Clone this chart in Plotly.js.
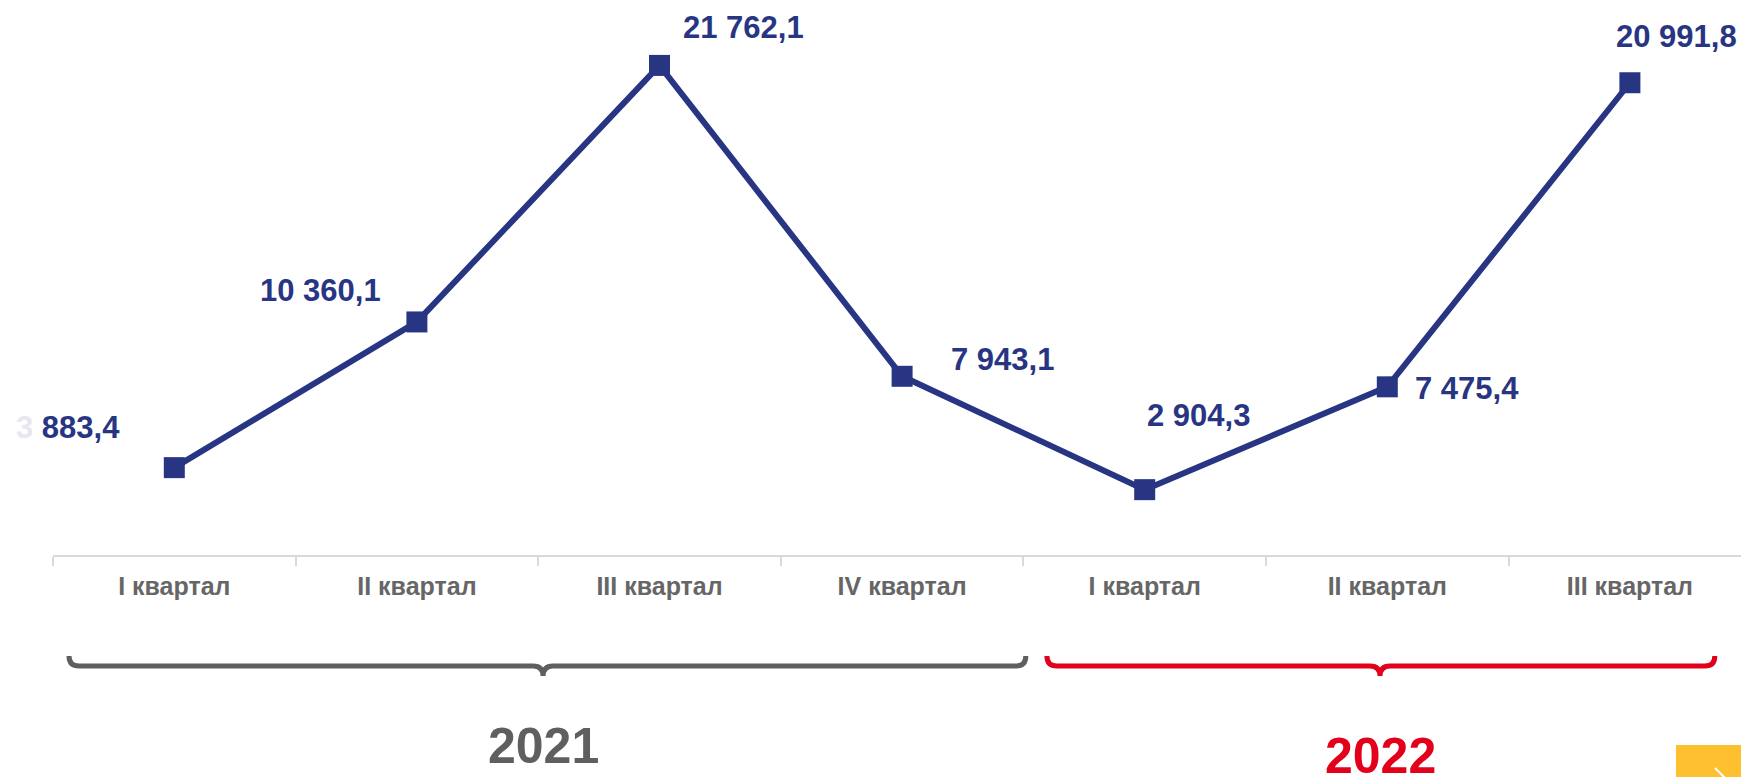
<!DOCTYPE html>
<html>
<head>
<meta charset="utf-8">
<script src="https://cdn.plot.ly/plotly-3.0.1.min.js"></script>
<style>
  html, body { margin: 0; padding: 0; background: #ffffff; }
  #graph { width: 1741px; height: 777px; }
</style>
</head>
<body>
<div id="graph"></div>
<script>
// categories (unique keys) and what is shown under the axis
var quarterKeys = ["2021 I", "2021 II", "2021 III", "2021 IV", "2022 I", "2022 II", "2022 III"];
var quarterLabels = ["I квартал", "II квартал", "III квартал", "IV квартал", "I квартал", "II квартал", "III квартал"];

// values
var values = [3883.4, 10360.1, 21762.1, 7943.1, 2904.3, 7475.4, 20991.8];
var valueTexts = ["<span style='color:#e6e7f0'>3</span> 883,4", "10 360,1", "21 762,1", "7 943,1", "2 904,3", "7 475,4", "20 991,8"];

// years
var years = ["2021", "2022"];

/*
* label offsets in pixels from each point
*/
var labelShiftX = [-106, -96, 84, 100, 54, 80, 47];
var labelShiftY = [40, 31, 38, 17, 74, -2, 46];

var NAVY = "#283583";
var GREY = "#5f5f5f";
var RED = "#e2001a";

var W = 1741, H = 777;
var mL = 53, mB = 222, mT = 0;
var plotW = W - mL, plotH = H - mB - mT;
var xRange = [-0.5, -0.5 + plotW / 242.6];

function paperX(cat) {
    return (cat - xRange[0]) / (xRange[1] - xRange[0]);
}
function pxX(px) {
    return (px - mL) / plotW;
}
function pxY(py) {
    return (mT + plotH - py) / plotH;
}

/*
* a curly brace under the axis, from category c0 to c1, cusp at cm
*/
function brace(c0, c1, cm, color) {
    var x0 = mL + paperX(c0) * plotW, x1 = mL + paperX(c1) * plotW, xm = mL + paperX(cm) * plotW;
    var yl = 666, yt = 656, yc = 676, r = 10;
    var pts = [
        ["M", x0, yt],
        ["Q", x0, yl, x0 + r, yl],
        ["L", xm - r, yl],
        ["Q", xm, yl, xm, yc],
        ["Q", xm, yl, xm + r, yl],
        ["L", x1 - r, yl],
        ["Q", x1, yl, x1, yt]
    ];
    var d = pts.map(function (p) {
        var s = p[0];
        for (var i = 1; i < p.length; i += 2) {
            s += " " + pxX(p[i]).toFixed(5) + "," + pxY(p[i + 1]).toFixed(5);
        }
        return s;
    }).join(" ");
    return {
        type: "path", xref: "paper", yref: "paper", path: d,
        line: { color: color, width: 5 }
    };
}

function drawGraph() {
    var trace, data, layout, annotations = [], shapes;

    trace = {
        x: quarterKeys,
        y: values,
        type: "scatter",
        mode: "lines+markers",
        line: { color: NAVY, width: 6 },
        marker: { symbol: "square", size: 21, color: NAVY },
        hoverinfo: "skip",
        cliponaxis: false
    };

    data = [trace];

    for (var i = 0; i < values.length; i++) {
        annotations.push({
            x: i, y: values[i], xref: "x", yref: "y",
            text: "<b>" + valueTexts[i] + "</b>",
            showarrow: false,
            xshift: labelShiftX[i], yshift: labelShiftY[i],
            font: { family: "Liberation Sans, Arial, sans-serif", size: 31, color: NAVY }
        });
    }

    annotations.push({
        x: 1.52, y: pxY(746), xref: "x", yref: "paper",
        text: "<b>" + years[0] + "</b>", showarrow: false, yanchor: "middle",
        font: { family: "Liberation Sans, Arial, sans-serif", size: 50, color: GREY }
    });
    annotations.push({
        x: 4.97, y: pxY(756), xref: "x", yref: "paper",
        text: "<b>" + years[1] + "</b>", showarrow: false, yanchor: "middle",
        font: { family: "Liberation Sans, Arial, sans-serif", size: 50, color: RED }
    });

    shapes = [
        brace(-0.434, 3.51, 1.52, GREY),
        brace(3.597, 6.35, 4.97, RED),
        {
            type: "rect", xref: "paper", yref: "paper",
            x0: pxX(1676), x1: 1.0, y0: pxY(745), y1: pxY(790),
            fillcolor: "#fec02e", line: { width: 0 }
        },
        {
            type: "line", xref: "paper", yref: "paper",
            x0: pxX(1715), y0: pxY(768), x1: pxX(1725), y1: pxY(778),
            line: { color: "#ffffff", width: 2 }
        }
    ];

    layout = {
        width: W,
        height: H,
        margin: { l: mL, r: 0, t: mT, b: mB, pad: 0 },
        paper_bgcolor: "#ffffff",
        plot_bgcolor: "#ffffff",
        showlegend: false,
        xaxis: {
            type: "category",
            range: xRange,
            tickmode: "array",
            tickvals: quarterKeys,
            ticktext: quarterLabels,
            tickson: "boundaries",
            ticks: "outside",
            ticklen: 9,
            tickwidth: 2,
            tickcolor: "#d9d9d9",
            showline: true,
            linecolor: "#d9d9d9",
            linewidth: 2,
            showgrid: false,
            zeroline: false,
            ticklabelstandoff: 8,
            tickfont: { family: "Liberation Sans, Arial, sans-serif", size: 25, color: "#666666", weight: "bold" }
        },
        yaxis: {
            range: [0, 24670],
            visible: false,
            showgrid: false,
            zeroline: false
        },
        annotations: annotations,
        shapes: shapes
    };

    Plotly.newPlot("graph", data, layout, { displayModeBar: false, staticPlot: true });
}

drawGraph();
</script>
</body>
</html>
